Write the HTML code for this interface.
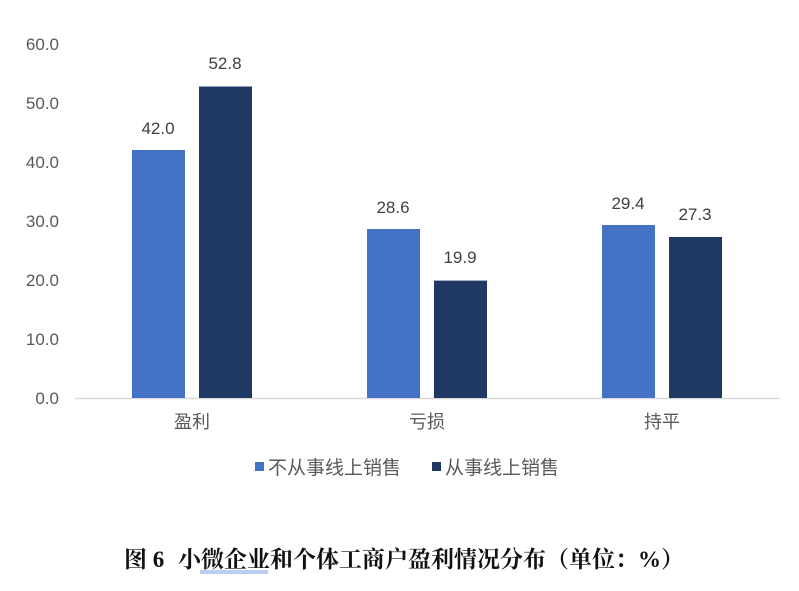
<!DOCTYPE html>
<html><head><meta charset="utf-8"><style>
body{margin:0;background:#fff;}
svg text{font-family:"Liberation Sans","Noto Sans CJK SC",sans-serif;}
</style></head><body>
<svg width="799" height="586" viewBox="0 0 799 586" xmlns="http://www.w3.org/2000/svg">
<rect width="799" height="586" fill="#fff"/>
<g font-size="17" fill="#595959" text-anchor="end">
<text x="59" y="50">60.0</text>
<text x="59" y="109">50.0</text>
<text x="59" y="168">40.0</text>
<text x="59" y="227">30.0</text>
<text x="59" y="286">20.0</text>
<text x="59" y="345">10.0</text>
<text x="59" y="404">0.0</text>
</g>
<line x1="75" y1="398.5" x2="780" y2="398.5" stroke="#d9d9d9" stroke-width="1.5"/>
<g fill="#4472c4">
<rect x="132" y="150" width="53" height="248"/>
<rect x="367" y="229" width="53" height="169"/>
<rect x="602" y="225" width="53" height="173"/>
</g>
<g fill="#203864">
<rect x="199" y="86.5" width="53" height="311.5"/>
<rect x="434" y="280.6" width="53" height="117.4"/>
<rect x="669" y="237" width="53" height="161"/>
</g>
<g font-size="17" fill="#404040" text-anchor="middle">
<text x="158" y="134">42.0</text>
<text x="225" y="69">52.8</text>
<text x="393" y="213">28.6</text>
<text x="460" y="263">19.9</text>
<text x="628" y="209">29.4</text>
<text x="695" y="220">27.3</text>
</g>
<g font-size="18" fill="#595959" text-anchor="middle">
<text x="192" y="428">盈利</text>
<text x="427" y="428">亏损</text>
<text x="662" y="428">持平</text>
</g>
<rect x="255" y="462" width="9" height="9" fill="#4472c4"/>
<text x="268" y="474" font-size="19" fill="#595959">不从事线上销售</text>
<rect x="432" y="462" width="9" height="9" fill="#203864"/>
<text x="445" y="474" font-size="19" fill="#595959">从事线上销售</text>
<text y="567" font-size="23" font-weight="bold" fill="#111" style="font-family:'Liberation Serif','Noto Serif CJK SC',serif"><tspan x="124">图 6</tspan><tspan x="178">小微企业和个体工商户盈利情况分布（单位：%）</tspan></text>
<line x1="200" y1="571" x2="268" y2="571" stroke="#7a9ee8" stroke-width="1"/>
<line x1="200" y1="573" x2="268" y2="573" stroke="#7a9ee8" stroke-width="1"/>
</svg>
</body></html>
